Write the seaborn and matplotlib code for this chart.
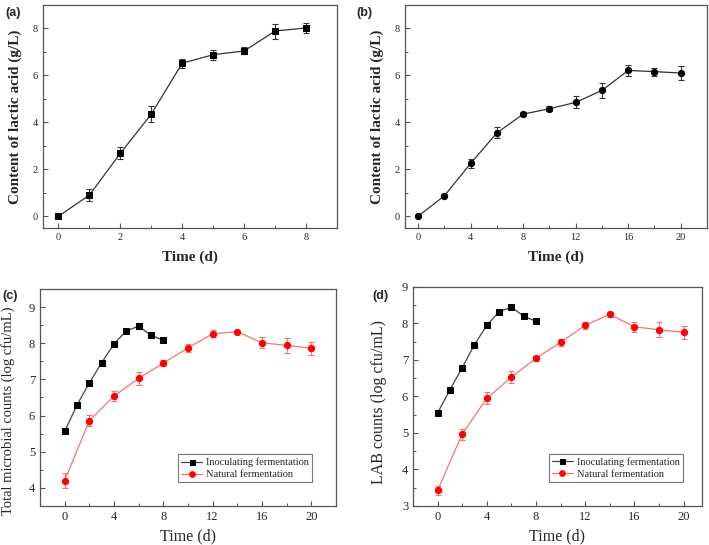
import matplotlib
matplotlib.use("Agg")
import matplotlib.pyplot as plt
from matplotlib.ticker import MultipleLocator
import seaborn as sns

# (a) inoculating fermentation, lactic acid
days_a = [0, 1, 2, 3, 4, 5, 6, 7, 8]
lactic_a = [0.0, 0.90, 2.68, 4.35, 6.52, 6.88, 7.04, 7.89, 8.02]
lactic_a_err = [0.05, 0.24, 0.26, 0.34, 0.19, 0.21, 0.15, 0.32, 0.20]

# (b) natural fermentation, lactic acid
days_b = [0, 2, 4, 6, 8, 10, 12, 14, 16, 18, 20]
lactic_b = [0.0, 0.87, 2.25, 3.55, 4.35, 4.58, 4.85, 5.36, 6.21, 6.16, 6.10]
lactic_b_err = [0.04, 0.07, 0.18, 0.23, 0.08, 0.10, 0.26, 0.32, 0.22, 0.17, 0.29]

# (c) total microbial counts
days_inoc = [0, 1, 2, 3, 4, 5, 6, 7, 8]
days_nat = [0, 2, 4, 6, 8, 10, 12, 14, 16, 18, 20]
total_inoc = [5.56, 6.29, 6.90, 7.46, 7.98, 8.34, 8.47, 8.22, 8.08]
total_inoc_err = [0.05, 0.07, 0.05, 0.08, 0.06, 0.04, 0.08, 0.05, 0.04]
total_nat = [4.20, 5.86, 6.54, 7.03, 7.45, 7.87, 8.26, 8.32, 8.01, 7.94, 7.86]
total_nat_err = [0.20, 0.15, 0.15, 0.18, 0.08, 0.10, 0.10, 0.05, 0.15, 0.20, 0.18]

# (d) LAB counts
lab_inoc = [5.55, 6.18, 6.79, 7.42, 7.95, 8.32, 8.45, 8.20, 8.06]
lab_inoc_err = [0.04, 0.05, 0.05, 0.05, 0.05, 0.04, 0.05, 0.04, 0.04]
lab_nat = [3.43, 4.97, 5.95, 6.53, 7.05, 7.48, 7.95, 8.25, 7.91, 7.83, 7.76]
lab_nat_err = [0.13, 0.15, 0.16, 0.17, 0.07, 0.10, 0.10, 0.06, 0.14, 0.20, 0.18]

legend_labels = ["Inoculating fermentation", "Natural fermentation"]

sns.set_style("ticks")
plt.rcParams["font.family"] = ["Liberation Serif", "DejaVu Serif"]

fig = plt.figure(figsize=(7.09, 5.45), dpi=100)
ax_a = fig.add_axes([0.0606, 0.5817, 0.4147, 0.4092])
ax_b = fig.add_axes([0.5712, 0.5817, 0.4260, 0.4092])
ax_c = fig.add_axes([0.0564, 0.0716, 0.4175, 0.3982])
ax_d = fig.add_axes([0.5825, 0.0716, 0.4076, 0.4018])

frame = "#555555"


def style_axes(ax, xmaj, xmin, ymaj, ymin, fs):
    for s in ax.spines.values():
        s.set_color(frame)
        s.set_linewidth(0.9)
    ax.xaxis.set_major_locator(MultipleLocator(xmaj))
    ax.xaxis.set_minor_locator(MultipleLocator(xmin))
    ax.yaxis.set_major_locator(MultipleLocator(ymaj))
    ax.yaxis.set_minor_locator(MultipleLocator(ymin))
    ax.tick_params(which="both", direction="in", color=frame, labelsize=fs,
                   top=False, right=False)
    ax.tick_params(which="major", length=3.5, width=0.8)
    ax.tick_params(which="minor", length=2, width=0.7)


def draw_series(ax, x, y, err, marker, line_c, mark_c, label=None, ms=4.5):
    ax.errorbar(x, y, yerr=err, fmt="none", ecolor=line_c, elinewidth=0.8,
                capsize=2.2, capthick=0.8, zorder=2)
    sns.lineplot(x=x, y=y, ax=ax, color=line_c, linewidth=0.9, marker=marker,
                 markersize=ms, markerfacecolor=mark_c, markeredgecolor=mark_c,
                 label=label, legend=False, zorder=3)


# (a)
draw_series(ax_a, days_a, lactic_a, lactic_a_err, "s", "#333333", "black")
style_axes(ax_a, 2, 1, 2, 1, 7.5)
ax_a.set_xlim(-0.5, 9)
ax_a.set_ylim(-0.5, 9)
ax_a.set_xlabel("Time (d)", fontsize=11, fontweight="bold", labelpad=6)
ax_a.set_ylabel("Content of lactic acid (g/L)", fontsize=11, fontweight="bold", labelpad=8)

# (b)
draw_series(ax_b, days_b, lactic_b, lactic_b_err, "o", "#333333", "black")
style_axes(ax_b, 4, 2, 2, 1, 7.5)
ax_b.set_xlim(-1, 22)
ax_b.set_ylim(-0.5, 9)
ax_b.set_xlabel("Time (d)", fontsize=11, fontweight="bold", labelpad=6)
ax_b.set_ylabel("Content of lactic acid (g/L)", fontsize=11, fontweight="bold", labelpad=8)

# (c)
draw_series(ax_c, days_inoc, total_inoc, total_inoc_err, "s", "#444444", "black",
            label=legend_labels[0], ms=4)
draw_series(ax_c, days_nat, total_nat, total_nat_err, "o", "#ff7070", "red",
            label=legend_labels[1])
style_axes(ax_c, 4, 2, 1, 0.5, 9)
ax_c.set_xlim(-2, 22)
ax_c.set_ylim(3.5, 9.5)
ax_c.set_xlabel("Time (d)", fontsize=11.5, labelpad=4)
ax_c.set_ylabel("Total microbial counts (log cfu/mL)", fontsize=10.5)
ax_c.yaxis.set_label_coords(-0.083, 0.44)

# (d)
draw_series(ax_d, days_inoc, lab_inoc, lab_inoc_err, "s", "#444444", "black",
            label=legend_labels[0], ms=4)
draw_series(ax_d, days_nat, lab_nat, lab_nat_err, "o", "#ff7070", "red",
            label=legend_labels[1])
style_axes(ax_d, 4, 2, 1, 0.5, 9)
ax_d.set_xlim(-2, 21.5)
ax_d.set_ylim(3, 9)
ax_d.set_xlabel("Time (d)", fontsize=11.5, labelpad=4)
ax_d.set_ylabel("LAB counts (log cfu/mL)", fontsize=11.5)
ax_d.yaxis.set_label_coords(-0.09, 0.475)

for ax, right in ((ax_c, 0.937), (ax_d, 0.952)):
    leg = ax.legend(loc="lower right", bbox_to_anchor=(right, 0.085), fontsize=7.5,
                    frameon=True, fancybox=False, edgecolor=frame,
                    handlelength=2.0, borderpad=0.3, labelspacing=0.25,
                    handletextpad=0.4, markerscale=0.9)
    leg.get_frame().set_linewidth(0.8)

panel_font = dict(fontsize=9, fontweight="bold", family=["Liberation Sans", "DejaVu Sans"])
fig.text(0.007, 0.988, "(a)", va="top", **panel_font)
fig.text(0.503, 0.988, "(b)", va="top", **panel_font)
fig.text(0.004, 0.468, "(c)", va="top", **panel_font)
fig.text(0.525, 0.468, "(d)", va="top", **panel_font)

fig.savefig("out.png", dpi=100)
